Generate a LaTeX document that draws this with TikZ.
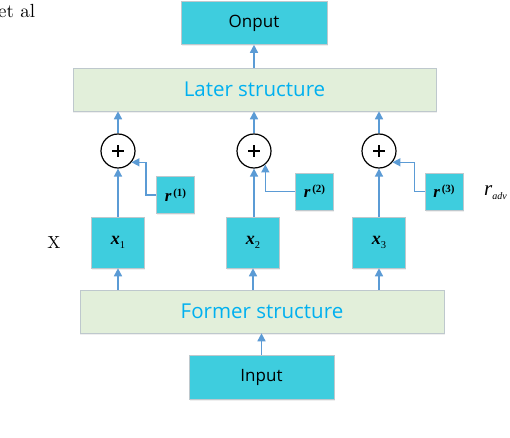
\documentclass[tikz,border=0pt]{standalone}
\usepackage{fontspec}
\setmainfont{Latin Modern Roman}
\usetikzlibrary{arrows.meta,shadows}
\newfontfamily\uifont{Open Sans}
\newfontfamily\tms{Liberation Serif}
\definecolor{boxcyan}{RGB}{62,205,222}
\definecolor{boxgreen}{RGB}{226,239,218}
\definecolor{txtblue}{RGB}{0,176,240}
\definecolor{arrblue}{RGB}{91,155,213}
\definecolor{bordergray}{RGB}{190,200,205}
\newcommand{\xlab}[1]{{\tms\fontsize{18bp}{20bp}\selectfont\bfseries\itshape x}\raisebox{-3.5bp}{\tms\fontsize{10.5bp}{10bp}\selectfont #1}}
\newcommand{\rlab}[1]{{\tms\fontsize{17bp}{20bp}\selectfont\bfseries\itshape r}\raisebox{5bp}{\tms\fontsize{11bp}{10bp}\selectfont\bfseries\,(#1)}}
\begin{document}
\begin{tikzpicture}[x=1bp,y=-1bp,
  cyanbox/.style={draw=bordergray, line width=0.6bp, fill=boxcyan, inner sep=0pt,
     drop shadow={opacity=0.12, shadow xshift=0.5bp, shadow yshift=-2bp}},
  greenbox/.style={draw=bordergray, line width=0.6bp, fill=boxgreen, inner sep=0pt,
     minimum width=363bp, minimum height=43bp,
     font=\uifont\fontsize{20.5bp}{24bp}\selectfont, text=txtblue,
     drop shadow={opacity=0.12, shadow xshift=0.5bp, shadow yshift=-2bp}},
  iobox/.style={cyanbox, minimum width=146bp, minimum height=43bp,
     font=\uifont\fontsize{17bp}{20bp}\selectfont},
  xbox/.style={cyanbox, minimum width=53bp, minimum height=51bp},
  rbox/.style={cyanbox, minimum width=38bp, minimum height=37bp},
  sumnode/.style={circle, draw=black, line width=1.2bp, fill=white, minimum size=34bp, inner sep=0pt},
  arr/.style={draw=arrblue, line width=1.5bp, -{Triangle[width=8bp,length=8bp]}, arrblue},
]
\useasboundingbox (0,0) rectangle (510,438);
\fill[white] (0,0) rectangle (510,438);

% boxes
\node[iobox] (onput) at (254,23) {Onput};
\node[greenbox] (later) at (254.5,89.5) {Later structure};
\node[greenbox, minimum width=364bp] (former) at (262,311.5) {Former structure};
\node[iobox, minimum width=145bp, minimum height=44bp] (input) at (261.5,377) {Input};

\node[xbox] (x1) at (118,242.5) {\xlab{1}};
\node[xbox] (x2) at (253,242.5) {\xlab{2}};
\node[xbox] (x3) at (379,242.5) {\xlab{3}};

\node[rbox] (r1) at (175.5,195) {\rlab{1}};
\node[rbox] (r2) at (314.5,191.5) {\rlab{2}};
\node[rbox] (r3) at (444,191.5) {\rlab{3}};

\node[sumnode] (c1) at (118,151) {};
\node[sumnode] (c2) at (254,151) {};
\node[sumnode] (c3) at (379,151) {};
\foreach \c in {c1,c2,c3}{
  \draw[line width=1.6bp] ([xshift=-6bp]\c.center) -- ([xshift=6bp]\c.center);
  \draw[line width=1.6bp] ([yshift=-6bp]\c.center) -- ([yshift=6bp]\c.center);
}

% side labels
\node[anchor=center, inner sep=0pt] (xlabel) at (54,243) {\scalebox{1.75}{\fontsize{10bp}{12bp}\selectfont X}};
\node[anchor=west, inner sep=0pt] (radv) at (484,193) {{\tms\fontsize{21bp}{22bp}\selectfont\itshape r}\raisebox{-4bp}{\tms\fontsize{10bp}{10bp}\selectfont\itshape adv}};
\node[anchor=base west, inner sep=0pt] (etal) at (-2,17.5) {\scalebox{1.9}{\fontsize{10bp}{12bp}\selectfont et al}};

% connectors
\draw[arr] (later.north -| onput.south) -- (onput.south);
\foreach \i in {1,2,3}{
  \draw[arr] (c\i.north) -- (c\i.north |- later.south);
  \draw[arr] (x\i.north -| c\i) -- (c\i.south);
  \draw[arr] (former.north -| x\i) -- (x\i.south);
}
\draw[arr] (input.north) -- (input.north |- former.south);
\draw[arr] (r1.west) -- ++(-10,0) |- (c1.-40);
\draw[arr] (r2.west) -| (c2.-50);
\draw[arr] (r3.west) -- ++(-10,0) |- (c3.-40);
\end{tikzpicture}
\end{document}
